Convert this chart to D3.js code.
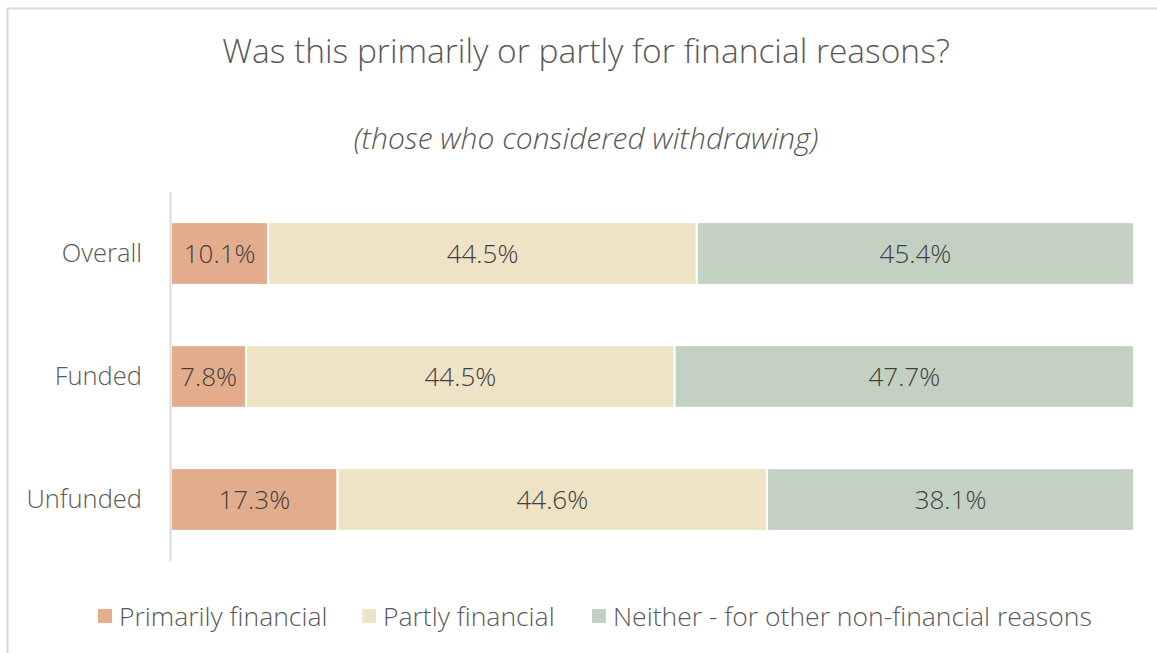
<!DOCTYPE html>
<html>
<head>
<meta charset="utf-8">
<script src="https://cdn.jsdelivr.net/npm/d3@7"></script>
<style>
  html, body { margin: 0; padding: 0; background: #fff; }
  svg { display: block; font-family: "Open Sans", Lato, sans-serif; }
</style>
</head>
<body>
<svg id="chart" width="1157" height="653"></svg>
<script>
// Survey groups and share of answers (%) per reason
const categories = ["Overall", "Funded", "Unfunded"];
const seriesNames = ["Primarily financial", "Partly financial", "Neither - for other non-financial reasons"];
const primarily = [10.1, 7.8, 17.3];
const partly = [44.5, 44.5, 44.6];
const neither = [45.4, 47.7, 38.1];
const colors = ["#E3AC8D", "#EFE3C6", "#C3D1C2"];

const rows = categories.map((c, i) => ({
  category: c,
  "Primarily financial": primarily[i],
  "Partly financial": partly[i],
  "Neither - for other non-financial reasons": neither[i]
}));

const svg = d3.select("#chart");
const W = 1157, H = 653;
const textColor = "#595959";

// outer frame (left and top edges visible)
svg.append("line").attr("x1", 7.5).attr("x2", 7.5).attr("y1", 8).attr("y2", H)
  .attr("stroke", "#d9d9d9").attr("stroke-width", 2);
svg.append("line").attr("x1", 7).attr("x2", W).attr("y1", 8.5).attr("y2", 8.5)
  .attr("stroke", "#d9d9d9").attr("stroke-width", 2);

// titles
svg.append("text").attr("x", 586).attr("y", 63).attr("text-anchor", "middle")
  .attr("font-size", 33.5).attr("font-weight", 300).attr("fill", textColor)
  .text("Was this primarily or partly for financial reasons?");
svg.append("text").attr("x", 586).attr("y", 149).attr("text-anchor", "middle")
  .attr("font-size", 30).attr("font-style", "italic").attr("font-weight", 300).attr("fill", textColor)
  .text("(those who considered withdrawing)");

const margin = { left: 171, right: 1134, top: 192, bottom: 561 };

const x = d3.scaleLinear().domain([0, 100]).range([margin.left, margin.right]);
const y = d3.scaleBand().domain(categories).range([margin.top, margin.bottom]).paddingInner(0.49).paddingOuter(0.245);

const stack = d3.stack().keys(seriesNames);
const stacked = stack(rows);
const color = d3.scaleOrdinal().domain(seriesNames).range(colors);

const groups = svg.append("g").selectAll("g").data(stacked).join("g")
  .attr("fill", d => color(d.key));

groups.selectAll("rect").data(d => d).join("rect")
  .attr("x", d => x(d[0]))
  .attr("y", d => y(d.data.category))
  .attr("width", d => x(d[1]) - x(d[0]))
  .attr("height", y.bandwidth())
  .attr("stroke", "#fff").attr("stroke-width", 2);

// value labels
groups.selectAll("text").data(d => d.map(v => ({ v, key: d.key }))).join("text")
  .attr("x", d => (x(d.v[0]) + x(d.v[1])) / 2)
  .attr("y", d => y(d.v.data.category) + y.bandwidth() / 2)
  .attr("dy", "0.36em")
  .attr("text-anchor", "middle")
  .attr("font-size", 26)
  .attr("font-weight", 300)
  .attr("fill", "#404040")
  .text(d => d.v.data[d.key].toFixed(1) + "%");

// category axis
const axis = svg.append("g").attr("transform", `translate(${margin.left - 1},0)`)
  .call(d3.axisLeft(y).tickSize(0).tickPadding(28));
axis.select(".domain").attr("stroke", "#d9d9d9").attr("stroke-width", 2);
axis.selectAll("text").attr("font-size", 25.5).attr("font-weight", 300).attr("fill", textColor)
  .attr("font-family", "'Open Sans', Lato, sans-serif");

// legend
const legendX = [98, 362, 592];
const legend = svg.append("g").selectAll("g").data(seriesNames).join("g")
  .attr("transform", (d, i) => `translate(${legendX[i]},616)`);
legend.append("rect").attr("x", 0).attr("y", -7).attr("width", 14).attr("height", 14)
  .attr("fill", d => color(d));
legend.append("text").attr("x", 21).attr("dy", "0.36em")
  .attr("font-size", 26.5).attr("font-weight", 300).attr("fill", textColor).text(d => d);
</script>
</body>
</html>
